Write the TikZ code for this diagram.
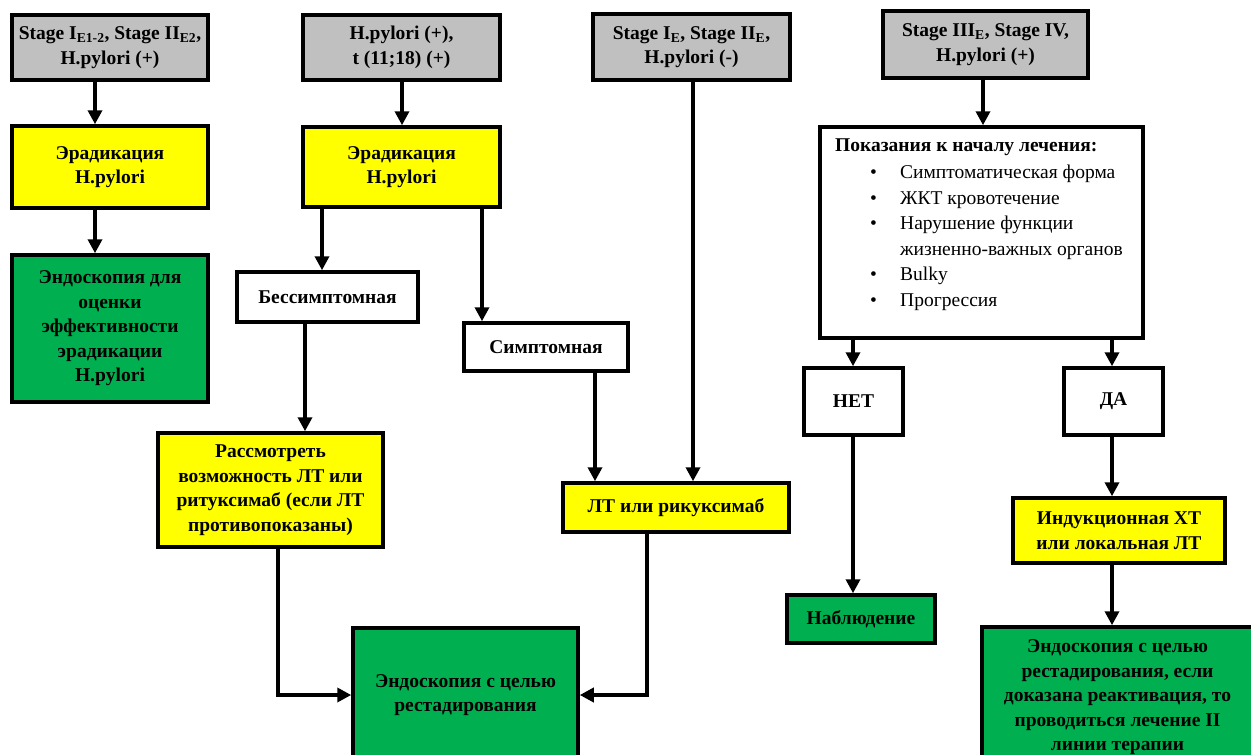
\documentclass[tikz,border=0pt]{standalone}
\usepackage{fontspec}
\setmainfont{Liberation Serif}
\usetikzlibrary{arrows.meta,calc}
\definecolor{boxgrey}{HTML}{C0C0C0}
\definecolor{boxyellow}{HTML}{FFFF00}
\definecolor{boxgreen}{HTML}{00B050}
\newcommand{\bulitem}{\makebox[65pt][l]{\hspace*{35pt}•}}
\begin{document}
\begin{tikzpicture}[x=1pt,y=-1pt,
  box/.style={draw=black, line width=3.5pt, inner sep=0pt, align=center,
    font=\bfseries\fontsize{19.5}{24.5}\selectfont},
  greybox/.style={box, fill=boxgrey},
  yellowbox/.style={box, fill=boxyellow},
  greenbox/.style={box, fill=boxgreen},
  whitebox/.style={box, fill=white},
  arr/.style={line width=3.5pt, -{Triangle[width=14pt,length=14pt]}}]
\useasboundingbox (0,0) rectangle (1251,755);
\clip (0,0) rectangle (1251,755);
\fill[white] (0,0) rectangle (1251,755);

% headers
\node[greybox, minimum width=196, minimum height=65] (h1) at (110,47.5)
  {Stage I\textsubscript{E1-2}, Stage II\textsubscript{E2},\\H.pylori (+)};
\node[greybox, minimum width=197, minimum height=65] (h2) at (401.5,47.5)
  {H.pylori (+),\\t (11;18) (+)};
\node[greybox, minimum width=197, minimum height=66] (h3) at (691.5,47)
  {Stage I\textsubscript{E}, Stage II\textsubscript{E},\\H.pylori (-)};
\node[greybox, minimum width=205, minimum height=67] (h4) at (985.5,44.5)
  {Stage III\textsubscript{E}, Stage IV,\\H.pylori (+)};

% column 1
\node[yellowbox, minimum width=196, minimum height=82] (y1) at (110,167)
  {Эрадикация\\H.pylori};
\node[greenbox, minimum width=196, minimum height=147] (g1) at (110,328.5)
  {Эндоскопия для\\оценки\\эффективности\\эрадикации\\H.pylori};

% column 2
\node[yellowbox, minimum width=197, minimum height=80] (y2) at (401.5,167)
  {Эрадикация\\H.pylori};
\node[whitebox, minimum width=181, minimum height=50] (bes) at (327.5,297)
  {Бессимптомная};
\node[whitebox, minimum width=164, minimum height=48] (sim) at (546,347)
  {Симптомная};
\node[yellowbox, minimum width=225, minimum height=114] (ras) at (270.5,490)
  {Рассмотреть\\возможность ЛТ или\\ритуксимаб (если ЛТ\\противопоказаны)};
\node[yellowbox, minimum width=226, minimum height=49] (lt) at (676,507.5)
  {ЛТ или рикуксимаб};
\node[greenbox, minimum width=225, minimum height=134] (gc) at (465.5,695)
  {Эндоскопия с целью\\рестадирования};

% column 4
\node[whitebox, minimum width=323, minimum height=211] (pok) at (981.5,232.5) {};
\node[anchor=north west, inner sep=0pt, align=left,
  font=\fontsize{19.5}{25.5}\selectfont] (pokt) at (835,139)
  {\textbf{Показания к началу лечения:}\\[1.5pt]
   \bulitem Симптоматическая форма\\
   \bulitem ЖКТ кровотечение\\
   \bulitem Нарушение функции\\
   \makebox[65pt]{}жизненно-важных органов\\
   \bulitem Bulky\\
   \bulitem Прогрессия};
\node[whitebox, minimum width=99, minimum height=67] (net) at (853.5,401.5) {НЕТ};
\node[whitebox, minimum width=99, minimum height=67] (da) at (1113.5,401.5) {ДА};
\node[greenbox, minimum width=148, minimum height=48] (nab) at (861,619) {Наблюдение};
\node[yellowbox, minimum width=212, minimum height=65] (ind) at (1119,530.5)
  {Индукционная ХТ\\или локальная ЛТ};
\node[greenbox, minimum width=271, minimum height=141] (gr) at (1117.5,697.5)
  {Эндоскопия с целью\\рестадирования, если\\доказана реактивация, то\\проводиться лечение II\\линии терапии};

% x positions of connectors
\coordinate (x95) at (95,0);
\coordinate (x402) at (402,0);
\coordinate (x322) at (322,0);
\coordinate (x482) at (482,0);
\coordinate (x305) at (305,0);
\coordinate (x595) at (595,0);
\coordinate (x693) at (693,0);
\coordinate (x278) at (278,0);
\coordinate (x647) at (647,0);
\coordinate (x983) at (983,0);
\coordinate (x853) at (853,0);
\coordinate (x1112) at (1112,0);

% connectors
\draw[arr] (x95 |- h1.south) -- (x95 |- y1.north);
\draw[arr] (x95 |- y1.south) -- (x95 |- g1.north);
\draw[arr] (x402 |- h2.south) -- (x402 |- y2.north);
\draw[arr] (x322 |- y2.south) -- (x322 |- bes.north);
\draw[arr] (x482 |- y2.south) -- (x482 |- sim.north);
\draw[arr] (x305 |- bes.south) -- (x305 |- ras.north);
\draw[arr] (x595 |- sim.south) -- (x595 |- lt.north);
\draw[arr] (x693 |- h3.south) -- (x693 |- lt.north);
\draw[arr] (x278 |- ras.south) |- (gc.west);
\draw[arr] (x647 |- lt.south) |- (gc.east);
\draw[arr] (x983 |- h4.south) -- (x983 |- pok.north);
\draw[arr] (x853 |- pok.south) -- (x853 |- net.north);
\draw[arr] (x1112 |- pok.south) -- (x1112 |- da.north);
\draw[arr] (x853 |- net.south) -- (x853 |- nab.north);
\draw[arr] (x1112 |- da.south) -- (x1112 |- ind.north);
\draw[arr] (x1112 |- ind.south) -- (x1112 |- gr.north);
\end{tikzpicture}
\end{document}
